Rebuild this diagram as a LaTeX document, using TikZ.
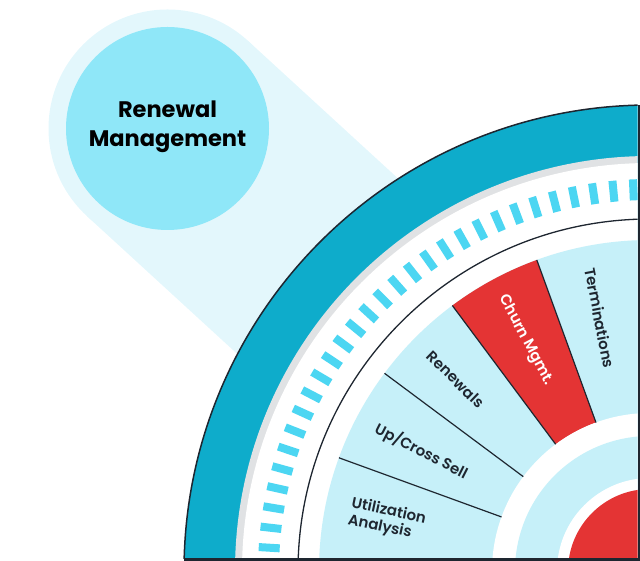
\documentclass[tikz,border=0pt]{standalone}
\usepackage{fontspec}
\setmainfont{Poppins}
\newfontfamily\labelfont{Poppins SemiBold}
\usetikzlibrary{calc}
\definecolor{wheelteal}{RGB}{14,172,203}
\definecolor{tickblue}{RGB}{76,214,242}
\definecolor{sectorblue}{RGB}{198,240,249}
\definecolor{churnred}{RGB}{228,52,52}
\definecolor{bubbleblue}{RGB}{143,231,248}
\definecolor{beamblue}{RGB}{227,247,252}
\definecolor{shadowgray}{RGB}{224,226,228}
\definecolor{inkdark}{RGB}{30,38,48}
\tikzset{
  wheel outline/.style={draw=inkdark, line width=2.5pt},
  divider/.style={draw=inkdark, line width=1.2pt},
  tickmark/.style={draw=tickblue, line width=8pt},
  sector label/.style={text=inkdark, font=\labelfont\fontsize{15}{17}\selectfont, align=left, inner sep=0pt},
}

\begin{document}
\begin{tikzpicture}[x=1pt,y=1pt]
  \useasboundingbox (0,0) rectangle (640,561);
  \coordinate (hub) at (650,-10); % wheel centre
  \coordinate (bub) at (167.5,432.5); % bubble centre
  \fill[beamblue] ([shift={(47.5:119)}]bub) -- ([shift={(47.5:119)}]hub) -- ([shift={(-132.5:119)}]hub) -- ([shift={(-132.5:119)}]bub) -- cycle; % beam
  \fill[beamblue] (bub) circle (119); % bubble halo
  \fill[bubbleblue] (bub) circle (101.5); % bubble
  \node[font=\bfseries\fontsize{22.5}{29}\selectfont, align=center, text=black] (title) at ([yshift=1.5]bub) {Renewal\\Management}; % title
  \begin{scope}
    \clip (0,2.5) rectangle (637.5,561);
    \fill[wheelteal] (hub) circle (466); % outer band
    \draw[wheel outline, line width=1.5pt] (hub) circle (466);
    \fill[shadowgray] (hub) circle (415); % shadow
    \fill[white] (hub) circle (408);
    \foreach \a in {89.5,92.5,...,176.5}
      \draw[tickmark] ([shift={(\a:371)}]hub) -- ([shift={(\a:392)}]hub); % ticks
    \draw[inkdark, line width=1.3pt] (hub) circle (352); % thin ring
    \fill[sectorblue] (hub) circle (331); % sectors
    \fill[churnred] ([shift={(110:158)}]hub) arc[start angle=110, end angle=126.67, radius=158]
      -- ([shift={(126.67:331)}]hub) arc[start angle=126.67, end angle=110, radius=331] -- cycle; % churn sector
    \fill[white] (hub) circle (158);
    \fill[sectorblue] (hub) circle (135); % inner ring
    \fill[white] (hub) circle (93);
    \fill[churnred] (hub) circle (82); % hub disc
    \foreach \a in {110,126.67,143.33,160}
      \draw[divider] ([shift={(\a:158)}]hub) -- ([shift={(\a:331)}]hub); % dividers
  \end{scope}
  \draw[wheel outline] (184.1,1.25) -- (638.75,1.25) -- (638.75,455.9); % cut edges
  \node[sector label, rotate=-12] (util) at ([shift={(169:268)}]hub) {Utilization\\Analysis};
  \node[sector label, rotate=-27] (upsell) at ([shift={(152.4:258)}]hub) {Up/Cross Sell};
  \node[sector label, rotate=-44] (renew) at ([shift={(135.4:273)}]hub) {Renewals};
  \node[sector label, rotate=-62, text=white] (churn) at ([shift={(118.3:262)}]hub) {Churn Mgmt.};
  \node[sector label, rotate=-79] (term) at ([shift={(101.2:258)}]hub) {Terminations};
\end{tikzpicture}
\end{document}
